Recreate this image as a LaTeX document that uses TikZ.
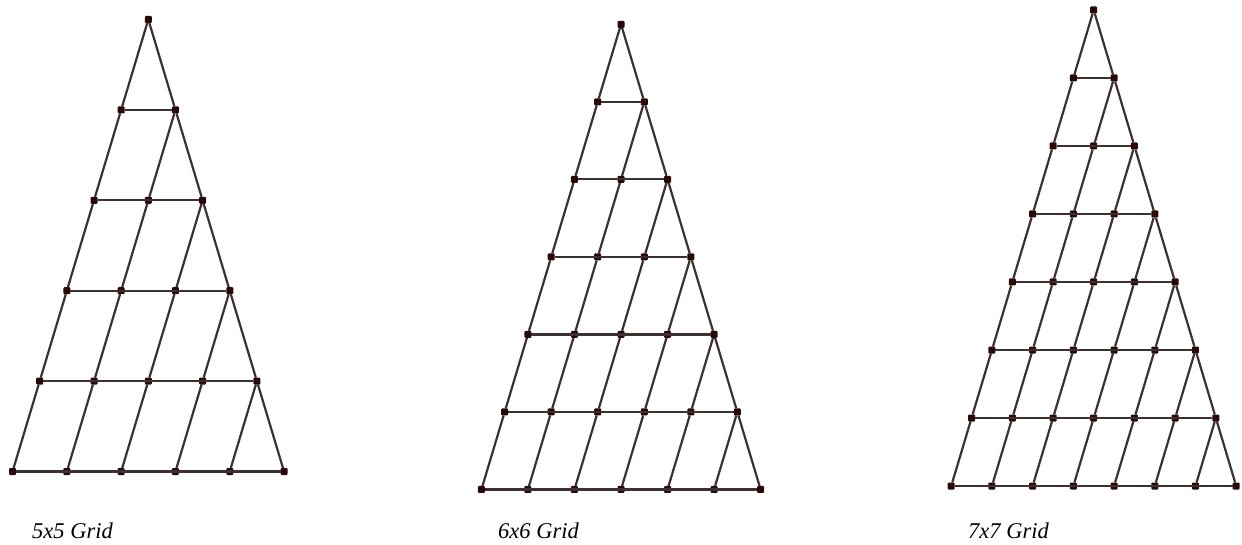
\documentclass[tikz,border=0pt]{standalone}
\usepackage{fontspec}
\setmainfont{Liberation Serif}
\definecolor{edgec}{HTML}{3B3131}
\definecolor{ptc}{HTML}{2B0808}
\newcommand\drawgrid[6]{%
  \foreach \k in {0,...,#2}{%
    \foreach \j in {0,...,\k}{%
      \node[pt] (#1-\k-\j) at ({#3+(\j-\k/2)*#5},{#4+\k*#6}) {};
    }%
  }%
  \foreach \k in {1,...,#2}{%
    \draw[edge] (#1-\k-0) -- (#1-\k-\k);
  }%
  \pgfmathtruncatemacro\nm{#2-1}%
  \foreach \k in {0,...,\nm}{%
    \pgfmathtruncatemacro\kk{\k+1}%
    \foreach \j in {0,...,\k}{%
      \draw[edge] (#1-\k-\j) -- (#1-\kk-\j);
    }%
    \draw[edge] (#1-\k-\k) -- (#1-\kk-\kk);
  }%
}
\begin{document}
\begin{tikzpicture}[x=1pt,y=-1pt,
  edge/.style={draw=edgec,line width=2.2pt},
  pt/.style={rectangle,rounded corners=1pt,fill=ptc,minimum size=7pt,inner sep=0pt,outer sep=0pt},
  lab/.style={anchor=base west,inner sep=0pt,font=\fontsize{22.5pt}{26pt}\selectfont\itshape}]
\useasboundingbox (0,0) rectangle (1242,545);
\drawgrid{a}{5}{148.3}{19.5}{54.3}{90.4}
\drawgrid{b}{6}{621}{24.3}{46.53}{77.53}
\drawgrid{c}{7}{1093.7}{10}{40.71}{68}
\node[lab] (la) at (32,538) {5x5 Grid};
\node[lab] (lb) at (498,538) {6x6 Grid};
\node[lab] (lc) at (968,538) {7x7 Grid};
\end{tikzpicture}
\end{document}
